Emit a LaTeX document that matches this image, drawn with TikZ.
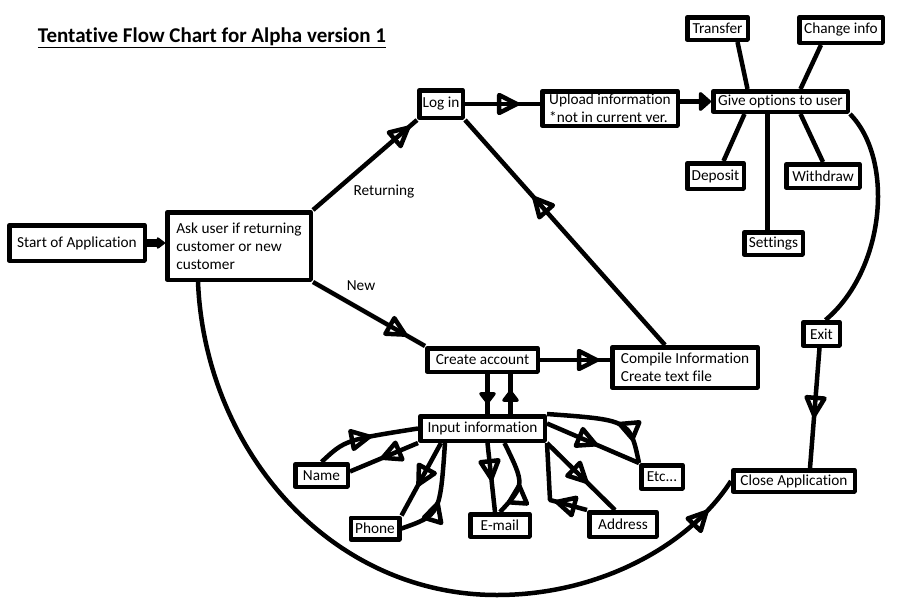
\documentclass[tikz,border=0pt]{standalone}
\usepackage{fontspec}
\setmainfont{Carlito}[Ligatures=NoCommon]
\usetikzlibrary{arrows.meta,decorations.markings}

\begin{document}
\begin{tikzpicture}[x=1pt,y=-1pt,line width=4.5pt,line join=round,
  box/.style 2 args={draw,rectangle,inner sep=0pt,align=left,minimum width=#1pt,minimum height=#2pt,font=\fontsize{15.3}{18}\selectfont},
  lbl/.style={font=\fontsize{15.3}{18}\selectfont},
  tip/.style={postaction={decorate},decoration={markings,mark=at position #1 with {\arrow{Triangle[open,round,length=25pt,width=24pt]}}}},
  smalltip/.style={postaction={decorate},decoration={markings,mark=at position #1 with {\arrow{Triangle[round,length=13pt,width=19pt]}}}}]

\useasboundingbox (0,0) rectangle (900,600);

\node[font=\bfseries\fontsize{21}{24}\selectfont] (title) at (212,38) {\underline{Tentative Flow Chart for Alpha version 1}};

\node[box={135.5}{35.5}] (start) at (77,243) {Start of Application};
\node[box={143.5}{67.5}] (ask) at (239,246) {Ask user if returning\\customer or new\\customer};
\node[lbl] (ret) at (384,192) {Returning};
\node[lbl] (new) at (361,286) {New};

\node[box={43.5}{27.5}] (login) at (441,104) {Log in};
\node[box={135.5}{34.5}] (upload) at (610,108.5) {Upload information\\*not in current ver.};
\node[box={134.5}{20.5}] (give) at (780.5,101.5) {Give options to user};
\node[box={60.5}{22.5}] (transfer) at (717.5,28.5) {Transfer};
\node[box={83.5}{25.5}] (change) at (841,30) {Change info};
\node[box={56.5}{25.5}] (deposit) at (715.5,176) {Deposit};
\node[box={73.5}{23.5}] (withdraw) at (823,176) {Withdraw};
\node[box={58.5}{22.5}] (settings) at (773.5,243.5) {Settings};
\node[box={36.5}{23.5}] (exit) at (821.5,334) {Exit};
\node[box={121.5}{21.5}] (close) at (794,481) {Close Application};

\node[box={110.5}{23.5}] (create) at (482.5,360) {Create account};
\node[box={145.5}{40.5}] (compile) at (685,367.5) {Compile Information\\Create text file};
\node[box={124.5}{24.5}] (input) at (482.5,428.5) {Input information};
\node[box={52.5}{22.5}] (name) at (321.5,475.5) {Name};
\node[box={48.5}{21.5}] (phone) at (375,528.5) {Phone};
\node[box={59.5}{22.5}] (email) at (500,525.5) {E-mail};
\node[box={67.5}{24.5}] (address) at (623,524.5) {Address};
\node[box={41.5}{23.5}] (etc) at (662,477) {Etc...};

\draw[line width=8pt,-{Triangle[round,length=9pt,width=13pt]}] (start.east) -- (start.east -| ask.west);
\draw[tip=0.93] (ask.north east) -- (login.south west);
\draw[tip=0.84] (ask.south east) -- (create.north west);
\draw[tip=0.72] (login.east) -- (login.east -| upload.west);
\draw[-{Triangle[round,length=13pt,width=22pt]}] (give.west -| upload.east) -- (give.west);
\draw[tip=0.84] (create.east) -- (create.east -| compile.west);
\draw[tip=0.66] ([xshift=-20pt]compile.north) -- (login.south east);

\draw ([xshift=-33pt]give.north) -- ([xshift=20pt]transfer.south);
\draw ([xshift=20pt]give.north) -- ([xshift=-20pt]change.south);
\draw ([xshift=-36pt]give.south) -- ([xshift=8pt]deposit.north);
\draw ([xshift=-13pt]give.south) -- ([xshift=-6pt]settings.north);
\draw ([xshift=20pt]give.south) -- (withdraw.north);
\draw (give.south east) .. controls (895,160) and (885,270) .. ([xshift=4pt]exit.north);
\draw[tip=0.58] ([xshift=-2pt]exit.south) -- ([xshift=16pt]close.north);
\draw[tip=0.95] ([xshift=33pt]ask.south west) .. controls (205,450) and (330,595) .. (497,595) .. controls (600,595) and (690,545) .. (close.west);

\draw[smalltip=0.75] ([xshift=5pt]create.south) -- ([xshift=5pt]input.north);
\draw[smalltip=0.6] ([xshift=28pt]input.north) -- ([xshift=28pt]create.south);

\draw[tip=0.55] (name.north) .. controls (345,440) .. (input.west);
\draw[tip=0.55] (input.south west) -- ([yshift=4pt]name.east);
\draw[tip=0.6] ([xshift=23pt]input.south west) -- (phone.north east);
\draw[tip=0.45] (phone.east) .. controls (440,515) .. ([xshift=27pt]input.south west);
\draw[tip=0.55] ([xshift=5pt]input.south) -- ([xshift=-5pt]email.north);
\draw[tip=0.45] (email.north) .. controls (525,485) .. ([xshift=22pt]input.south);
\draw[tip=0.6] (input.south east) -- ([xshift=-8pt]address.north);
\draw[tip=0.35] (address.north west) -- (550,500) -- (input.south east);
\draw[tip=0.55] ([yshift=5pt]input.east) -- (etc.north west);
\draw[tip=0.4] (etc.north west) .. controls (630,420) .. (input.north east);

\end{tikzpicture}
\end{document}
